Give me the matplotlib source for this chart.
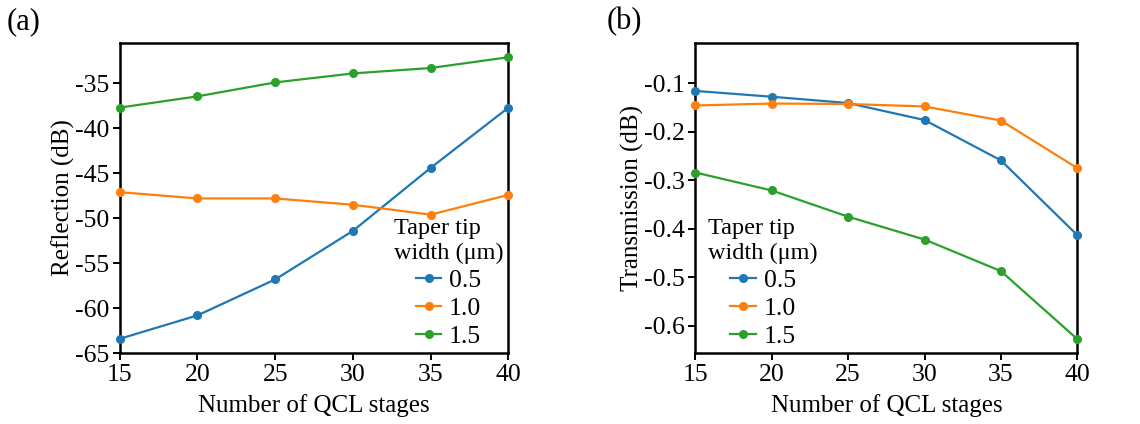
import matplotlib
matplotlib.use("Agg")
import matplotlib.pyplot as plt

plt.rcParams["font.family"] = ["Liberation Serif", "DejaVu Serif"]
plt.rcParams["axes.unicode_minus"] = False
plt.rcParams["font.size"] = 18

stages = [15, 20, 25, 30, 35, 40]
widths = ["0.5", "1.0", "1.5"]
colors = ["#1f77b4", "#ff7f0e", "#2ca02c"]

reflection_05 = [-63.4, -60.8, -56.8, -51.4, -44.4, -37.7]
reflection_10 = [-47.1, -47.8, -47.8, -48.5, -49.6, -47.4]
reflection_15 = [-37.7, -36.45, -34.9, -33.9, -33.3, -32.1]

transmission_05 = [-0.116, -0.128, -0.141, -0.176, -0.259, -0.413]
transmission_10 = [-0.146, -0.142, -0.143, -0.148, -0.177, -0.275]
transmission_15 = [-0.284, -0.321, -0.375, -0.422, -0.487, -0.627]

fig = plt.figure(figsize=(11.4, 4.24), dpi=100)
ax1 = fig.add_axes([0.105, 0.167, 0.341, 0.732])
ax2 = fig.add_axes([0.610, 0.167, 0.335, 0.732])


def style(ax):
    for s in ax.spines.values():
        s.set_linewidth(1.8)
    ax.tick_params(direction="out", length=5, width=1.4, labelsize=18.5, pad=2.5)
    ax.set_xlim(15, 40)
    ax.set_xticks(stages)
    ax.set_xlabel("Number of QCL stages", fontsize=18, labelpad=6)


legend_kw = dict(frameon=False, fontsize=18.5, title_fontsize=17.5, handlelength=1.0,
                 handletextpad=0.3, labelspacing=0.2, borderaxespad=0.0, borderpad=0.2)

for ys, c, lab in zip([reflection_05, reflection_10, reflection_15], colors, widths):
    ax1.plot(stages, ys, "-o", color=c, lw=1.6, ms=5.5, label=lab, clip_on=False, zorder=3)
style(ax1)
ax1.set_ylim(-65, -30.5)
ax1.set_yticks([-35, -40, -45, -50, -55, -60, -65])
ax1.set_ylabel("Reflection (dB)", fontsize=18, labelpad=0)
leg1 = ax1.legend(title="Taper tip\nwidth (μm)", loc="lower right",
                  bbox_to_anchor=(1.0, 0.0), **legend_kw)
leg1._legend_box.align = "center"

for ys, c, lab in zip([transmission_05, transmission_10, transmission_15], colors, widths):
    ax2.plot(stages, ys, "-o", color=c, lw=1.6, ms=5.5, label=lab, clip_on=False, zorder=3)
style(ax2)
ax2.set_ylim(-0.656, -0.017)
ax2.set_yticks([-0.1, -0.2, -0.3, -0.4, -0.5, -0.6])
ax2.set_yticklabels(["-0.1", "-0.2", "-0.3", "-0.4", "-0.5", "-0.6"])
ax2.set_ylabel("Transmission (dB)", fontsize=18, labelpad=0)
leg2 = ax2.legend(title="Taper tip\nwidth (μm)", loc="lower left",
                  bbox_to_anchor=(0.02, 0.0), **legend_kw)
leg2._legend_box.align = "center"

fig.text(0.006, 0.932, "(a)", fontsize=22)
fig.text(0.532, 0.932, "(b)", fontsize=22)

fig.savefig("out.png", dpi=100)
